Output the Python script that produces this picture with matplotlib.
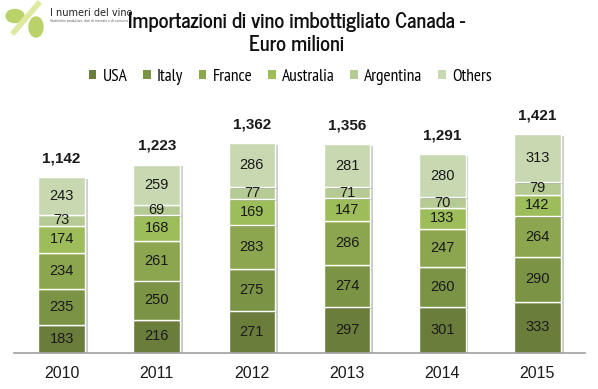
import numpy as np
import matplotlib.pyplot as plt
import matplotlib.patheffects as pe
from matplotlib.patches import Ellipse

plt.rcParams['font.family'] = ['PT Sans Narrow', 'DejaVu Sans']

years = ['2010', '2011', '2012', '2013', '2014', '2015']
series = ['USA', 'Italy', 'France', 'Australia', 'Argentina', 'Others']
usa = [183, 216, 271, 297, 301, 333]
italy = [235, 250, 275, 274, 260, 290]
france = [234, 261, 283, 286, 247, 264]
australia = [174, 168, 169, 147, 133, 142]
argentina = [73, 69, 77, 71, 70, 79]
others = [243, 259, 286, 281, 280, 313]
totals = [1142, 1223, 1362, 1356, 1291, 1421]

colors = ['#6b7d3b', '#7b9345', '#8ba64e', '#9dbd5b', '#b5cb93', '#c8d8b1']
data = [usa, italy, france, australia, argentina, others]

fig = plt.figure(figsize=(5.98, 3.89), dpi=100)
ax = fig.add_axes([14/598, 36/389, 571/598, 253/389])

x = np.arange(len(years))
bottom = np.zeros(len(years))
shadow = [pe.SimplePatchShadow(offset=(2, -1), alpha=0.25), pe.Normal()]
for name, vals, c in zip(series, data, colors):
    vals = np.array(vals)
    bars = ax.bar(x, vals, 0.49, bottom=bottom, color=c, edgecolor='white',
                  linewidth=1, label=name, zorder=2)
    for b in bars:
        b.set_path_effects(shadow)
    for xi, v, b0 in zip(x, vals, bottom):
        ax.text(xi, b0 + v / 2, str(v), ha='center', va='center', family=['Liberation Sans'],
                fontsize=10.5, color='#1a1a1a', zorder=3)
    bottom += vals

for xi, t in zip(x, totals):
    ax.text(xi, t + 123, f'{t:,}', ha='center', va='center', family=['Liberation Sans'],
            fontsize=11, fontweight='bold', color='#1a1a1a')

ax.set_xlim(-0.5, 5.5)
ax.set_ylim(0, 253 / 0.154)
ax.set_xticks(x)
ax.set_xticklabels(years, fontsize=11.5, family=['Liberation Sans'], color='#1a1a1a')
ax.tick_params(axis='x', length=0, pad=9)
ax.set_yticks([])
for s in ['top', 'right', 'left']:
    ax.spines[s].set_visible(False)
ax.spines['bottom'].set_color('#a0a0a0')
ax.spines['bottom'].set_linewidth(1.2)

handles, labels = ax.get_legend_handles_labels()
leg = fig.legend(handles, labels, loc='center', bbox_to_anchor=(290/598, 1 - 77/389),
                 ncol=6, frameon=False, fontsize=12.5, handlelength=0.45, handleheight=0.45,
                 handletextpad=0.35, columnspacing=0.9)
for h in leg.legend_handles:
    h.set_path_effects([])
    h.set_edgecolor('none')

fig.text(297/598, 1 - 22/389, 'Importazioni di vino imbottigliato Canada -', family=['News Cycle'],
         ha='center', va='center', fontsize=14.7, fontweight='bold', color='#111111')
fig.text(297/598, 1 - 45/389, 'Euro milioni', family=['News Cycle'],
         ha='center', va='center', fontsize=14.7, fontweight='bold', color='#111111')

# logo
fig.lines.append(plt.Line2D([14/598, 38/598], [1 - 32/389, 1 - 4/389], transform=fig.transFigure,
                            color='#dfeaa0', lw=4))
fig.patches.append(Ellipse((15/598, 1 - 16/389), 18/598, 13/389, transform=fig.transFigure,
                           color='#b9d36a', zorder=1))
fig.patches.append(Ellipse((36/598, 1 - 27/389), 14/598, 20/389, transform=fig.transFigure,
                           color='#b9d36a', zorder=1))
fig.text(50/598, 1 - 13/389, 'I numeri del vino', fontsize=7, color='#222222',
         ha='left', va='center', family=['DejaVu Sans'])
fig.text(50/598, 1 - 21/389, 'Statistiche produttive, dati di mercato e di consumo', fontsize=2.2,
         color='#555555', ha='left', va='center', family=['DejaVu Sans'])

fig.savefig('out.png', dpi=100)
